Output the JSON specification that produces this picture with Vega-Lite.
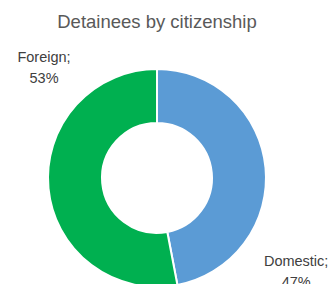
{
  "$schema": "https://vega.github.io/schema/vega-lite/v6.json",
  "width": 314,
  "height": 276,
  "autosize": "none",
  "padding": {"left": 0, "top": 40, "right": 18, "bottom": 0},
  "background": "white",
  "title": {
    "text": "Detainees by citizenship",
    "font": "Liberation Sans",
    "fontSize": 18.5,
    "fontWeight": "normal",
    "color": "#595959",
    "anchor": "middle",
    "offset": 9
  },
  "data": {
    "values": [
      {"category": "Domestic", "value": 47},
      {"category": "Foreign", "value": 53}
    ]
  },
  "transform": [
    {"calculate": "datum.category + ';\\n' + datum.value + '%'", "as": "label"}
  ],
  "encoding": {
    "theta": {"field": "value", "type": "quantitative", "stack": true},
    "order": {"field": "category", "sort": "ascending"}
  },
  "layer": [
    {
      "mark": {"type": "arc", "radius": 109, "innerRadius": 55, "stroke": "white", "strokeWidth": 2},
      "encoding": {
        "color": {
          "field": "category",
          "type": "nominal",
          "scale": {"domain": ["Domestic", "Foreign"], "range": ["#5B9BD5", "#00B050"]},
          "legend": null
        }
      }
    },
    {
      "mark": {"type": "text", "radius": 157, "thetaOffset": 0.862, "dy": -10.5, "font": "Liberation Sans", "fontSize": 14.5, "color": "#404040", "align": "center", "baseline": "middle", "lineBreak": "\n", "lineHeight": 21},
      "encoding": {
        "text": {"condition": {"test": "datum.category == 'Foreign'", "field": "label"}, "value": ""}
      }
    },
    {
      "mark": {"type": "text", "radius": 168, "thetaOffset": 0.689, "dy": -10.5, "font": "Liberation Sans", "fontSize": 14.5, "color": "#404040", "align": "center", "baseline": "middle", "lineBreak": "\n", "lineHeight": 21},
      "encoding": {
        "text": {"condition": {"test": "datum.category == 'Domestic'", "field": "label"}, "value": ""}
      }
    }
  ]
}
